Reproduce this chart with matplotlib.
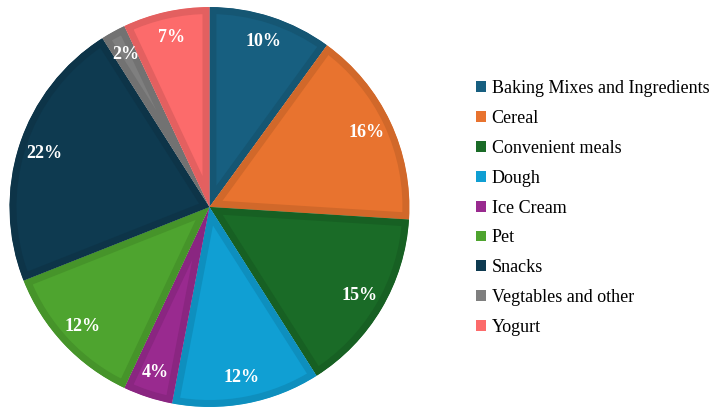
import matplotlib
matplotlib.use("Agg")
import matplotlib.pyplot as plt
from matplotlib.colors import to_rgb
from matplotlib.patches import Patch, Wedge

categories = [
    "Baking Mixes and Ingredients",
    "Cereal",
    "Convenient meals",
    "Dough",
    "Ice Cream",
    "Pet",
    "Snacks",
    "Vegtables and other",
    "Yogurt",
]
shares = [10, 16, 15, 12, 4, 12, 22, 2, 7]
colors = ["#175f80", "#e8732f", "#1a6b27", "#109fd3", "#992a8f",
          "#4ea42f", "#0e3a50", "#7f7f7f", "#fc6b6b"]


def darker(c, f=0.9):
    r, g, b = to_rgb(c)
    return (r * f, g * f, b * f)


plt.rcParams["font.family"] = ["Liberation Serif", "DejaVu Serif"]

fig = plt.figure(figsize=(7.1, 4.08), dpi=100)
ax = fig.add_axes([0.0, 0.0, 0.59, 1.0])

wedges, _, autotexts = ax.pie(
    shares,
    colors=colors,
    startangle=90,
    counterclock=False,
    radius=1.0,
    autopct=lambda p: f"{p:.0f}%",
    pctdistance=0.87,
    wedgeprops=dict(linewidth=10, joinstyle="miter"),
    textprops=dict(color="white", fontsize=13, fontweight="bold"),
)
ax.set_xlim(-1.0475, 1.0475)
ax.set_ylim(-1.005, 1.035)

# clip each slice's outline to its own shape so the border sits inside
for w, c in zip(wedges, colors):
    w.set_edgecolor(darker(c))
    clip = Wedge(w.center, w.r, w.theta1, w.theta2, transform=ax.transData)
    w.set_clip_on(True)
    w.set_clip_path(clip)

handles = [Patch(facecolor=c, edgecolor="none") for c in colors]
fig.legend(
    handles, categories,
    loc="center left", bbox_to_anchor=(0.648, 0.49),
    frameon=False, fontsize=13, handlelength=0.55, handleheight=0.55,
    handletextpad=0.3, labelspacing=0.71,
)

fig.savefig("out.png", dpi=100)
